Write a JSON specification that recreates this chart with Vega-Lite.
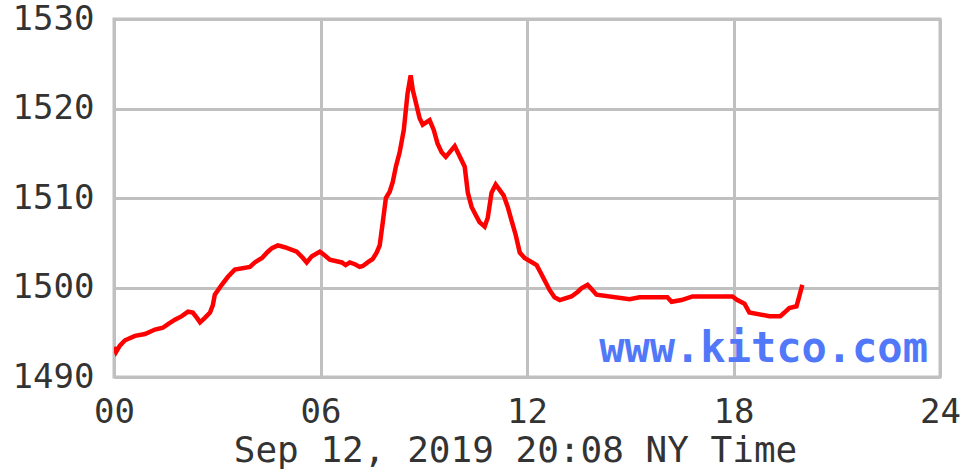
{
  "$schema": "https://vega.github.io/schema/vega-lite/v6.json",
  "width": 826,
  "height": 358,
  "autosize": {"type": "none"},
  "padding": {"left": 114, "top": 19, "right": 20, "bottom": 99},
  "background": "white",
  "config": {
    "view": {"stroke": "#c0c0c0", "strokeWidth": 3},
    "axis": {
      "labelFont": "DejaVu Sans Mono",
      "labelFontSize": 34,
      "labelColor": "#333333",
      "titleFont": "DejaVu Sans Mono",
      "titleFontSize": 36,
      "titleFontWeight": "normal",
      "titleColor": "#333333",
      "domain": false,
      "ticks": false,
      "gridColor": "#c0c0c0",
      "gridWidth": 3,
      "gridOpacity": 1
    }
  },
  "datasets": {
    "gold": [
      {"hour": 0.0, "price": 1493.35},
      {"hour": 0.06, "price": 1492.8},
      {"hour": 0.17, "price": 1493.5},
      {"hour": 0.32, "price": 1494.1},
      {"hour": 0.61, "price": 1494.6},
      {"hour": 0.9, "price": 1494.8},
      {"hour": 1.19, "price": 1495.3},
      {"hour": 1.42, "price": 1495.5},
      {"hour": 1.57, "price": 1495.9},
      {"hour": 1.77, "price": 1496.4},
      {"hour": 1.97, "price": 1496.8},
      {"hour": 2.15, "price": 1497.3},
      {"hour": 2.29, "price": 1497.2},
      {"hour": 2.41, "price": 1496.6},
      {"hour": 2.5, "price": 1496.1},
      {"hour": 2.64, "price": 1496.6},
      {"hour": 2.79, "price": 1497.2},
      {"hour": 2.87, "price": 1498.0},
      {"hour": 2.93, "price": 1499.2},
      {"hour": 3.02, "price": 1499.7},
      {"hour": 3.13, "price": 1500.3},
      {"hour": 3.31, "price": 1501.2},
      {"hour": 3.51, "price": 1502.0},
      {"hour": 3.95, "price": 1502.3},
      {"hour": 4.09, "price": 1502.8},
      {"hour": 4.3, "price": 1503.3},
      {"hour": 4.47, "price": 1504.0},
      {"hour": 4.59, "price": 1504.4},
      {"hour": 4.76, "price": 1504.7},
      {"hour": 4.96, "price": 1504.5},
      {"hour": 5.31, "price": 1504.0},
      {"hour": 5.49, "price": 1503.3},
      {"hour": 5.6, "price": 1502.8},
      {"hour": 5.75, "price": 1503.5},
      {"hour": 5.98, "price": 1504.0},
      {"hour": 6.12, "price": 1503.6},
      {"hour": 6.27, "price": 1503.1},
      {"hour": 6.62, "price": 1502.8},
      {"hour": 6.73, "price": 1502.5},
      {"hour": 6.85, "price": 1502.8},
      {"hour": 7.0, "price": 1502.6},
      {"hour": 7.14, "price": 1502.3},
      {"hour": 7.23, "price": 1502.4},
      {"hour": 7.37, "price": 1502.8},
      {"hour": 7.52, "price": 1503.2},
      {"hour": 7.63, "price": 1503.9},
      {"hour": 7.72, "price": 1504.7},
      {"hour": 7.81, "price": 1507.3},
      {"hour": 7.9, "price": 1510.0},
      {"hour": 8.01, "price": 1510.7},
      {"hour": 8.1, "price": 1511.8},
      {"hour": 8.19, "price": 1513.5},
      {"hour": 8.3, "price": 1515.1},
      {"hour": 8.42, "price": 1517.6},
      {"hour": 8.53, "price": 1521.7},
      {"hour": 8.62, "price": 1523.7},
      {"hour": 8.68, "price": 1522.1},
      {"hour": 8.8, "price": 1520.2},
      {"hour": 8.88, "price": 1518.9},
      {"hour": 8.97, "price": 1518.2},
      {"hour": 9.17, "price": 1518.7},
      {"hour": 9.29, "price": 1517.6},
      {"hour": 9.4, "price": 1516.1},
      {"hour": 9.52, "price": 1515.1},
      {"hour": 9.64, "price": 1514.6},
      {"hour": 9.75, "price": 1515.1},
      {"hour": 9.9, "price": 1515.8},
      {"hour": 10.19, "price": 1513.5},
      {"hour": 10.28, "price": 1510.6},
      {"hour": 10.39, "price": 1509.0},
      {"hour": 10.51, "price": 1508.1},
      {"hour": 10.62, "price": 1507.3},
      {"hour": 10.77, "price": 1506.8},
      {"hour": 10.86, "price": 1507.8},
      {"hour": 10.97, "price": 1510.6},
      {"hour": 11.09, "price": 1511.5},
      {"hour": 11.32, "price": 1510.3},
      {"hour": 11.44, "price": 1509.0},
      {"hour": 11.55, "price": 1507.5},
      {"hour": 11.67, "price": 1505.9},
      {"hour": 11.79, "price": 1503.9},
      {"hour": 11.93, "price": 1503.3},
      {"hour": 12.28, "price": 1502.5},
      {"hour": 12.39, "price": 1501.7},
      {"hour": 12.51, "price": 1500.8},
      {"hour": 12.66, "price": 1499.7},
      {"hour": 12.8, "price": 1498.9},
      {"hour": 12.95, "price": 1498.6},
      {"hour": 13.29, "price": 1499.0},
      {"hour": 13.47, "price": 1499.5},
      {"hour": 13.58, "price": 1499.9},
      {"hour": 13.76, "price": 1500.3},
      {"hour": 13.88, "price": 1499.8},
      {"hour": 14.02, "price": 1499.2},
      {"hour": 14.98, "price": 1498.7},
      {"hour": 15.27, "price": 1498.9},
      {"hour": 16.08, "price": 1498.9},
      {"hour": 16.2, "price": 1498.4},
      {"hour": 16.49, "price": 1498.6},
      {"hour": 16.81, "price": 1499.0},
      {"hour": 17.97, "price": 1499.0},
      {"hour": 18.11, "price": 1498.6},
      {"hour": 18.32, "price": 1498.2},
      {"hour": 18.46, "price": 1497.2},
      {"hour": 19.04, "price": 1496.8},
      {"hour": 19.36, "price": 1496.8},
      {"hour": 19.48, "price": 1497.2},
      {"hour": 19.62, "price": 1497.7},
      {"hour": 19.83, "price": 1497.9},
      {"hour": 19.91, "price": 1499.0},
      {"hour": 20.0, "price": 1500.3}
    ],
    "mark": [
      {"hour": 23.65, "price": 1491.7, "label": "www.kitco.com"}
    ]
  },
  "layer": [
    {
      "data": {"name": "gold"},
      "mark": {"type": "line", "color": "#ff0000", "strokeWidth": 4.5, "strokeJoin": "miter", "clip": true},
      "encoding": {
        "x": {
          "field": "hour",
          "type": "quantitative",
          "scale": {"domain": [0, 24], "nice": false, "zero": false},
          "axis": {
            "values": [0, 6, 12, 18, 24],
            "labelExpr": "datum.value < 10 ? '0' + datum.value : '' + datum.value",
            "labelPadding": 18,
            "labelFlush": false,
            "labelOverlap": false,
            "titlePadding": 4,
            "titleX": 401,
            "title": "Sep 12, 2019 20:08 NY Time"
          }
        },
        "y": {
          "field": "price",
          "type": "quantitative",
          "scale": {"domain": [1490, 1530], "nice": false, "zero": false},
          "axis": {
            "values": [1490, 1500, 1510, 1520, 1530],
            "format": "d",
            "labelPadding": 20,
            "labelFlush": false,
            "title": null
          }
        }
      }
    },
    {
      "data": {"name": "mark"},
      "mark": {
        "type": "text",
        "align": "right",
        "baseline": "alphabetic",
        "font": "DejaVu Sans Mono",
        "fontWeight": "bold",
        "fontSize": 42,
        "color": "#5078f8"
      },
      "encoding": {
        "x": {"field": "hour", "type": "quantitative"},
        "y": {"field": "price", "type": "quantitative"},
        "text": {"field": "label"}
      }
    }
  ]
}
